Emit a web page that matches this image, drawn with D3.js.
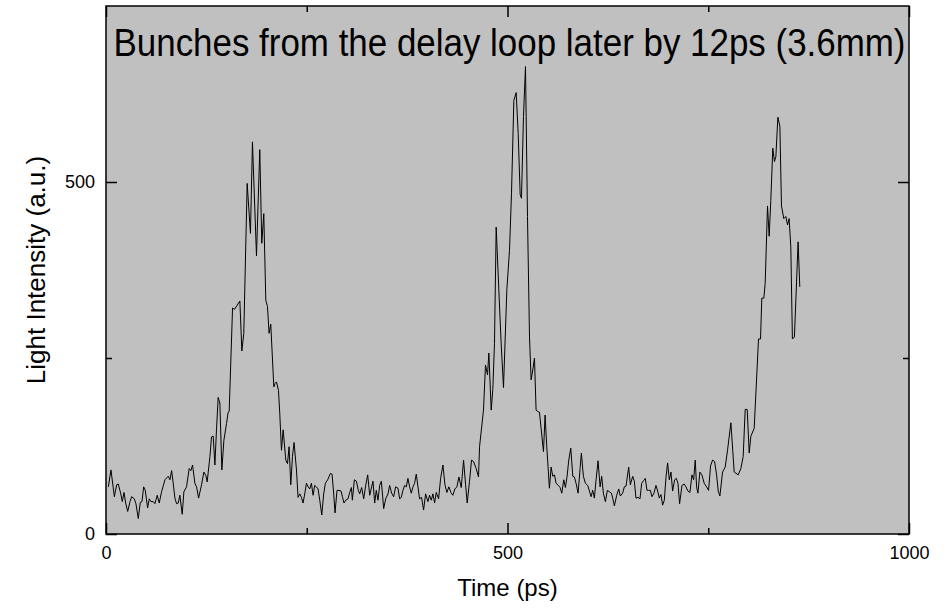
<!DOCTYPE html>
<meta charset="utf-8">
<script src="https://d3js.org/d3.v7.min.js"></script>
<style>
  body { margin: 0; background: #fff; }
  text { font-family: Arial, "Liberation Sans", sans-serif; }
</style>
<div id="vis"></div>
<script>

// time (ps) and light intensity (a.u.)
var timePs = [
  2.9, 6.2, 10.4, 13.3, 15.3, 18.2, 20.3, 22.4, 24.5, 27.0,
  29.9, 31.9, 35.2, 37.3, 40.2, 42.7, 44.8, 46.9, 48.9, 51.8,
  53.9, 56.0, 58.9, 60.9, 63.8, 66.3, 69.2, 73.4, 77.5, 79.6,
  81.7, 83.7, 85.8, 87.9, 90.0, 92.0, 94.9, 97.0, 100.3, 103.6,
  105.7, 107.8, 110.7, 112.8, 115.3, 119.0, 121.9, 124.4, 126.0, 129.4,
  131.4, 133.5, 135.6, 137.6, 139.7, 141.8, 144.3, 146.8, 150.1, 152.1,
  153.4, 157.6, 160.0, 166.7, 169.2, 171.6, 175.8, 179.9, 182.4, 187.4,
  191.5, 194.0, 196.5, 199.0, 201.1, 203.1, 205.2, 209.0, 210.6, 212.3,
  214.8, 216.4, 218.5, 220.6, 223.9, 226.0, 228.0, 230.1, 232.2, 234.2,
  237.2, 239.2, 241.3, 243.4, 245.4, 247.5, 249.6, 251.7, 253.7, 255.8,
  257.9, 259.9, 262.0, 264.1, 266.2, 268.7, 271.1, 273.2, 276.5, 279.4,
  281.5, 283.6, 285.2, 287.7, 290.2, 292.7, 294.4, 296.4, 298.5, 301.4,
  303.5, 305.6, 306.8, 309.3, 311.8, 314.3, 315.9, 318.4, 320.9, 323.4,
  325.9, 328.4, 330.8, 332.5, 334.6, 336.6, 338.7, 340.8, 342.9, 345.8,
  348.3, 351.2, 353.2, 355.7, 358.2, 360.7, 363.6, 365.7, 367.7, 369.8,
  371.9, 374.0, 376.0, 378.1, 380.2, 382.3, 384.3, 386.4, 388.5, 390.5,
  393.0, 395.5, 398.0, 400.9, 403.0, 405.1, 407.1, 409.2, 411.3, 414.2,
  416.7, 419.6, 422.1, 424.5, 427.0, 429.5, 432.0, 434.5, 437.0, 439.5,
  442.4, 445.3, 447.8, 449.8, 452.7, 455.2, 457.7, 461.0, 463.9, 465.2,
  470.1, 472.6, 475.1, 476.8, 479.7, 481.7, 483.8, 485.9, 489.2, 492.1,
  495.0, 499.2, 502.5, 505.0, 507.9, 510.8, 513.3, 515.8, 517.4, 519.9,
  522.4, 524.9, 527.4, 529.4, 531.5, 533.6, 535.6, 537.7, 539.8, 544.8,
  546.8, 548.9, 552.2, 554.3, 556.4, 558.5, 560.5, 563.4, 565.5, 567.6,
  570.1, 572.1, 574.2, 576.3, 578.8, 581.3, 583.3, 585.4, 587.9, 590.4,
  592.0, 594.5, 597.0, 599.9, 602.0, 604.1, 606.1, 608.2, 610.3, 612.8,
  615.3, 617.3, 619.4, 621.9, 624.4, 626.9, 629.4, 631.0, 633.1, 636.0,
  638.5, 640.5, 643.4, 645.5, 647.6, 650.9, 653.0, 655.9, 658.0, 660.0,
  662.5, 665.0, 667.1, 669.6, 671.6, 673.7, 675.8, 677.9, 679.9, 682.4,
  684.9, 687.0, 689.1, 691.1, 693.2, 695.3, 697.4, 699.4, 701.5, 703.6,
  705.6, 708.1, 710.2, 712.3, 714.3, 717.3, 720.1, 722.2, 724.7, 727.2,
  729.7, 731.8, 733.8, 735.5, 737.1, 739.6, 742.1, 745.0, 747.9, 750.4,
  752.9, 755.4, 757.9, 760.4, 762.4, 764.5, 767.8, 771.1, 774.0, 778.2,
  782.3, 787.3, 790.6, 793.5, 796.0, 798.5, 801.0, 803.1, 807.2, 812.6,
  815.1, 816.7, 819.2, 820.9, 823.8, 825.9, 827.9, 830.4, 832.5, 834.2,
  836.7, 839.2, 841.2, 844.1, 846.6, 848.7, 850.7, 852.8, 854.8, 857.3,
  861.9, 864.0
]
var intensity = [
  67, 91, 53, 70, 71, 58, 46, 59, 44, 32,
  46, 53, 50, 43, 22, 45, 46, 67, 62, 37,
  50, 46, 46, 43, 55, 44, 60, 77, 82, 77,
  90, 72, 51, 43, 44, 55, 28, 60, 67, 93,
  90, 98, 72, 67, 51, 70, 88, 83, 74, 110,
  138, 139, 98, 148, 194, 186, 91, 133, 157, 173,
  174, 321, 319, 331, 260, 285, 498, 427, 557, 395,
  546, 413, 455, 332, 323, 285, 298, 209, 214, 216,
  204, 171, 119, 148, 105, 100, 124, 70, 110, 130,
  91, 52, 57, 52, 44, 57, 72, 67, 64, 72,
  55, 69, 67, 64, 48, 27, 57, 72, 78, 86,
  85, 57, 30, 62, 62, 61, 53, 44, 48, 50,
  59, 66, 48, 77, 75, 62, 57, 66, 50, 69,
  84, 55, 67, 75, 44, 62, 48, 69, 75, 36,
  50, 57, 69, 58, 53, 67, 65, 50, 52, 62,
  69, 67, 79, 67, 58, 67, 72, 85, 67, 50,
  52, 34, 57, 46, 55, 48, 57, 44, 59, 50,
  79, 98, 70, 59, 67, 59, 55, 64, 67, 81,
  66, 105, 70, 44, 75, 105, 103, 93, 81, 124,
  176, 240, 226, 257, 176, 205, 271, 436, 347, 271,
  208, 347, 403, 484, 616, 627, 569, 482, 477, 593,
  664, 451, 280, 219, 233, 250, 176, 174, 173, 117,
  169, 124, 65, 95, 82, 84, 72, 69, 66, 58,
  77, 66, 82, 105, 122, 82, 81, 72, 58, 93,
  115, 82, 72, 69, 61, 53, 62, 51, 77, 104,
  67, 82, 58, 46, 62, 60, 58, 51, 40, 55,
  64, 54, 58, 67, 68, 95, 70, 82, 75, 51,
  52, 50, 72, 76, 79, 62, 62, 62, 53, 58,
  69, 61, 51, 56, 41, 48, 81, 101, 77, 88,
  61, 77, 79, 72, 43, 69, 71, 67, 61, 59,
  84, 77, 105, 67, 58, 88, 84, 72, 67, 62,
  97, 105, 103, 84, 61, 54, 88, 95, 119, 158,
  88, 84, 93, 110, 177, 177, 115, 139, 150, 277,
  277, 335, 335, 356, 466, 423, 474, 548, 529, 536,
  592, 579, 466, 448, 451, 439, 448, 408, 277, 280,
  415, 351
]

var xMajorTicks = [0, 500, 1000]
var xMinorTicks = [250, 750]
var yMajorTicks = [0, 500]
var yMinorTicks = [250]

var titleText = "Bunches from the delay loop later by 12ps (3.6mm)"
var xTitle = "Time (ps)"
var yTitle = "Light Intensity (a.u.)"

var width = 950
    height = 610
    plot = {left: 106, right: 909, top: 6, bottom: 534}

var x = d3.scaleLinear().domain([0, 1000]).range([plot.left, plot.right])
var y = d3.scaleLinear().domain([0, 750]).range([plot.bottom, plot.top])

var svg = d3.select("#vis")
  .append("svg")
    .attr("width", width)
    .attr("height", height)

svg.append("rect")
    .attr("x", plot.left)
    .attr("y", plot.top)
    .attr("width", plot.right - plot.left)
    .attr("height", plot.bottom - plot.top)
    .attr("fill", "#c0c0c0")

function styleAxis(g) {
  g.select(".domain").remove()
  g.selectAll(".tick line").attr("stroke", "#000").attr("stroke-width", 1.5)
  g.selectAll(".tick text").attr("fill", "#000")
  g.attr("font-size", 18).attr("font-family", "Arial, 'Liberation Sans', sans-serif")
}

// bottom
svg.append("g")
    .attr("transform", "translate(0," + plot.bottom + ")")
    .call(d3.axisBottom(x).tickValues(xMajorTicks).tickSize(-11).tickPadding(12).tickFormat(d3.format("d")))
    .call(styleAxis)
svg.append("g")
    .attr("transform", "translate(0," + plot.bottom + ")")
    .call(d3.axisBottom(x).tickValues(xMinorTicks).tickSize(-6).tickFormat(""))
    .call(styleAxis)
// top
svg.append("g")
    .attr("transform", "translate(0," + plot.top + ")")
    .call(d3.axisTop(x).tickValues(xMajorTicks).tickSize(-11).tickFormat(""))
    .call(styleAxis)
svg.append("g")
    .attr("transform", "translate(0," + plot.top + ")")
    .call(d3.axisTop(x).tickValues(xMinorTicks).tickSize(-6).tickFormat(""))
    .call(styleAxis)
// left
svg.append("g")
    .attr("transform", "translate(" + plot.left + ",0)")
    .call(d3.axisLeft(y).tickValues(yMajorTicks).tickSize(-11).tickPadding(11).tickFormat(d3.format("d")))
    .call(styleAxis)
svg.append("g")
    .attr("transform", "translate(" + plot.left + ",0)")
    .call(d3.axisLeft(y).tickValues(yMinorTicks).tickSize(-6).tickFormat(""))
    .call(styleAxis)
// right
svg.append("g")
    .attr("transform", "translate(" + plot.right + ",0)")
    .call(d3.axisRight(y).tickValues(yMajorTicks).tickSize(-11).tickFormat(""))
    .call(styleAxis)
svg.append("g")
    .attr("transform", "translate(" + plot.right + ",0)")
    .call(d3.axisRight(y).tickValues(yMinorTicks).tickSize(-6).tickFormat(""))
    .call(styleAxis)

var line = d3.line()
    .x(function(d) { return x(timePs[d]) })
    .y(function(d) { return y(intensity[d]) })

svg.append("path")
    .datum(d3.range(timePs.length))
    .attr("d", line)
    .attr("fill", "none")
    .attr("stroke", "#000")
    .attr("stroke-width", 1)
    .attr("stroke-linejoin", "round")

svg.append("rect")
    .attr("x", plot.left)
    .attr("y", plot.top)
    .attr("width", plot.right - plot.left)
    .attr("height", plot.bottom - plot.top)
    .attr("fill", "none")
    .attr("stroke", "#000")
    .attr("stroke-width", 1.5)

svg.append("text")
    .attr("x", (plot.left + plot.right) / 2 + 2)
    .attr("y", 56)
    .attr("text-anchor", "middle")
    .attr("font-size", 38)
    .attr("textLength", 792)
    .attr("lengthAdjust", "spacingAndGlyphs")
    .text(titleText)

svg.append("text")
    .attr("x", (plot.left + plot.right) / 2)
    .attr("y", 596)
    .attr("text-anchor", "middle")
    .attr("font-size", 24)
    .text(xTitle)

svg.append("text")
    .attr("transform", "translate(45," + (plot.top + plot.bottom) / 2 + ") rotate(-90)")
    .attr("text-anchor", "middle")
    .attr("font-size", 26)
    .text(yTitle)

</script>
